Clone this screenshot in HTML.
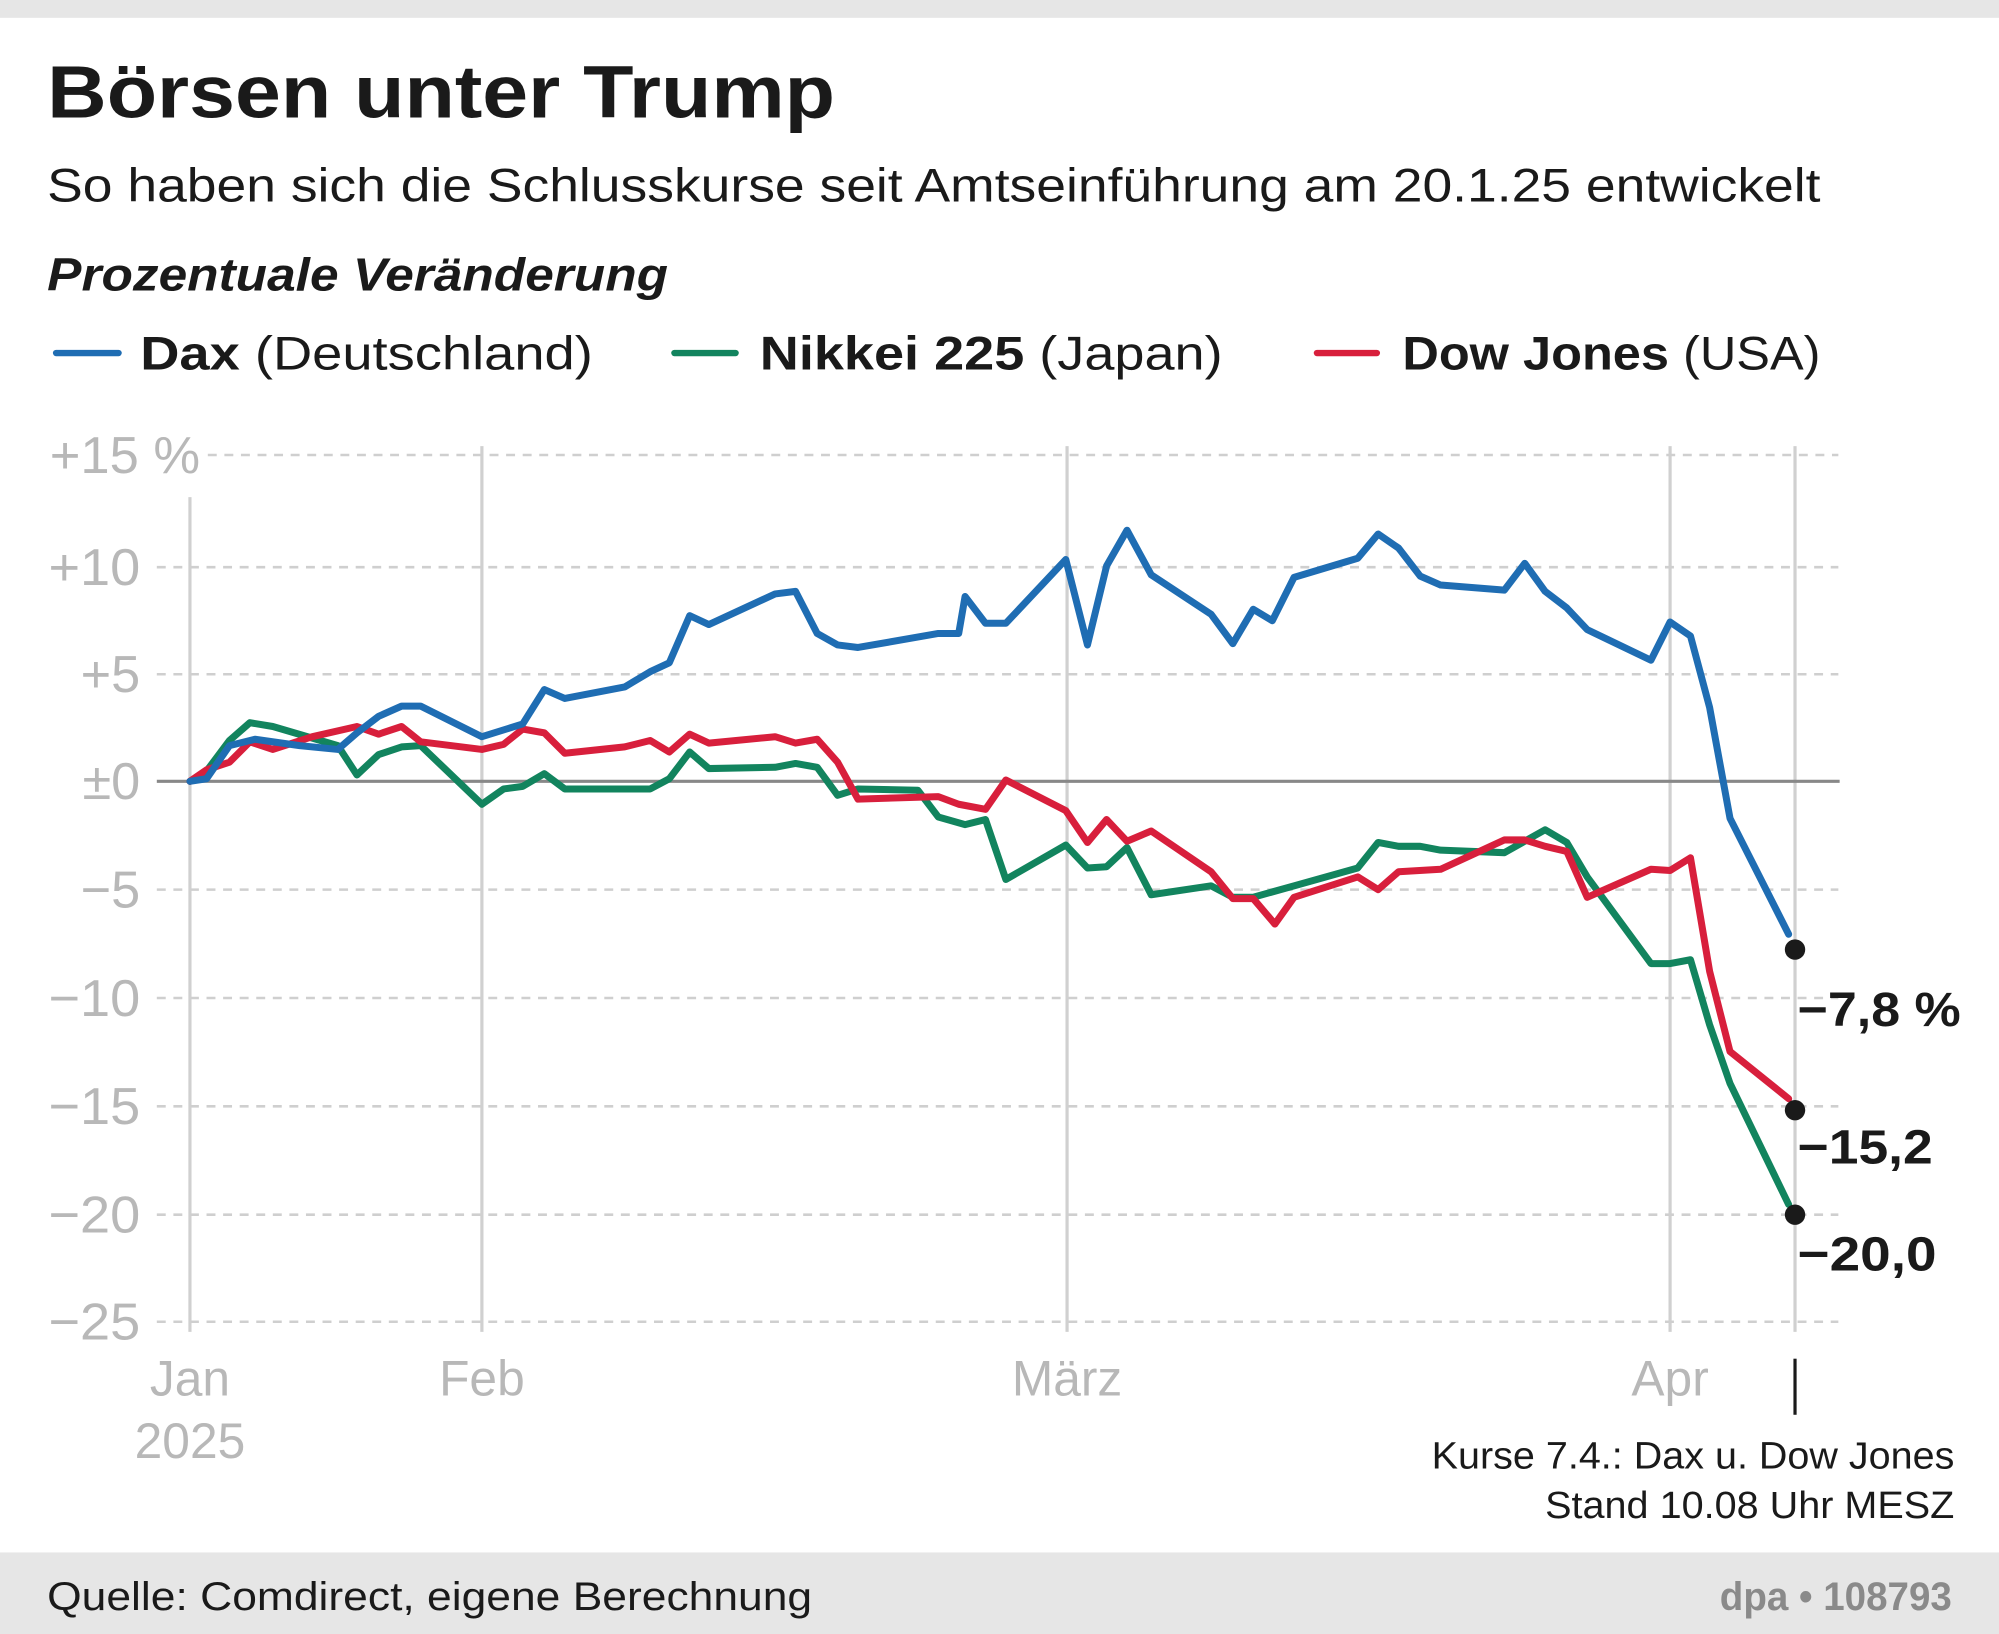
<!DOCTYPE html>
<html><head><meta charset="utf-8"><style>
html,body{margin:0;padding:0;background:#fff}
svg{display:block}
text{font-family:"Liberation Sans","DejaVu Sans",sans-serif}
</style></head><body>
<svg width="1999" height="1634" viewBox="0 0 1568 1282" preserveAspectRatio="none" xmlns="http://www.w3.org/2000/svg">
<rect x="0" y="0" width="1568" height="1282" fill="#fff"/>
<rect x="0" y="0" width="1568" height="14" fill="#e6e6e6"/>
<rect x="0" y="1218" width="1568" height="64" fill="#e6e6e6"/>
<text x="37" y="92" font-size="58" font-weight="bold" fill="#1a1a1a" textLength="618" lengthAdjust="spacingAndGlyphs">Börsen unter Trump</text>
<text x="37" y="158" font-size="37" fill="#1a1a1a" textLength="1391" lengthAdjust="spacingAndGlyphs">So haben sich die Schlusskurse seit Amtseinführung am 20.1.25 entwickelt</text>
<text x="37" y="228" font-size="36" font-weight="bold" font-style="italic" fill="#1a1a1a" textLength="487" lengthAdjust="spacingAndGlyphs">Prozentuale Veränderung</text>
<g stroke-width="5" stroke-linecap="round">
<line x1="44" y1="277" x2="93" y2="277" stroke="#1f6db3"/>
<line x1="529" y1="277" x2="577" y2="277" stroke="#12845e"/>
<line x1="1033" y1="277" x2="1080" y2="277" stroke="#d81f3c"/>
</g>
<g font-size="37" fill="#1a1a1a">
<text x="110" y="290" textLength="355" lengthAdjust="spacingAndGlyphs"><tspan font-weight="bold">Dax</tspan> (Deutschland)</text>
<text x="596" y="290" textLength="363" lengthAdjust="spacingAndGlyphs"><tspan font-weight="bold">Nikkei 225</tspan> (Japan)</text>
<text x="1100" y="290" textLength="328" lengthAdjust="spacingAndGlyphs"><tspan font-weight="bold">Dow Jones</tspan> (USA)</text>
</g>
<g stroke="#d0d0d0" stroke-width="2.5">
<line x1="149" y1="390" x2="149" y2="1045"/>
<line x1="378" y1="350" x2="378" y2="1045"/>
<line x1="837" y1="350" x2="837" y2="1045"/>
<line x1="1310" y1="350" x2="1310" y2="1045"/>
<line x1="1408" y1="350" x2="1408" y2="1045"/>
</g>
<g stroke="#cfcfcf" stroke-width="2" stroke-dasharray="7,6">
<line x1="163" y1="357" x2="1442" y2="357"/>
<line x1="123" y1="445" x2="1442" y2="445"/>
<line x1="123" y1="529" x2="1442" y2="529"/>
<line x1="123" y1="698" x2="1442" y2="698"/>
<line x1="123" y1="783" x2="1442" y2="783"/>
<line x1="123" y1="868" x2="1442" y2="868"/>
<line x1="123" y1="953" x2="1442" y2="953"/>
<line x1="123" y1="1037" x2="1442" y2="1037"/>
</g>
<line x1="123" y1="613" x2="1443" y2="613" stroke="#888" stroke-width="2.5"/>
<g font-size="41" fill="#b8b8b8" text-anchor="end">
<text x="157" y="371" textLength="118" lengthAdjust="spacingAndGlyphs">+15 %</text>
<text x="110" y="459" textLength="72" lengthAdjust="spacingAndGlyphs">+10</text>
<text x="110" y="543">+5</text>
<text x="110" y="627">±0</text>
<text x="110" y="712">−5</text>
<text x="110" y="797" textLength="72" lengthAdjust="spacingAndGlyphs">−10</text>
<text x="110" y="882" textLength="72" lengthAdjust="spacingAndGlyphs">−15</text>
<text x="110" y="967" textLength="72" lengthAdjust="spacingAndGlyphs">−20</text>
<text x="110" y="1051" textLength="72" lengthAdjust="spacingAndGlyphs">−25</text>
</g>
<g font-size="39" fill="#b8b8b8" text-anchor="middle">
<text x="149" y="1095">Jan</text>
<text x="149" y="1144">2025</text>
<text x="378" y="1095">Feb</text>
<text x="837" y="1095">März</text>
<text x="1310" y="1095">Apr</text>
</g>
<line x1="1408" y1="1066" x2="1408" y2="1110" stroke="#1a1a1a" stroke-width="2.5"/>
<g fill="none" stroke-width="5.5" stroke-linejoin="round" stroke-linecap="round">
<polyline stroke="#12845e" points="149,613 162,605 180,581 196,567 214,570 265,585 280,608 297,592 315,586 330,585 378,631 395,619 410,617 427,607 443,619 510,619 525,611 541,590 556,603 608,602 624,599 641,602 657,624 673,619 720,620 736,641 757,647 773,643 789,690 836,663 853,681 868,680 884,665 903,702 950,695 967,704 983,704 1015,695 1065,681 1081,661 1097,664 1114,664 1130,667 1180,669 1196,660 1212,651 1229,661 1245,688 1295,756 1310,756 1326,753 1341,804 1357,850 1403,945"/>
<polyline stroke="#d81f3c" points="149,613 162,604 180,598 196,582 214,588 245,578 280,570 297,576 315,570 330,582 378,588 395,584 410,572 427,575 443,591 490,586 510,581 525,590 541,576 556,583 608,578 624,583 641,580 657,598 673,627 736,625 752,631 773,635 789,612 836,636 853,661 868,643 884,660 903,652 950,684 967,705 983,705 1000,725 1015,704 1065,688 1081,698 1097,684 1130,682 1180,659 1196,659 1212,664 1229,668 1245,704 1295,682 1310,683 1326,673 1341,762 1357,825 1403,862"/>
<polyline stroke="#1f6db3" points="149,613 162,611 180,585 200,580 235,585 265,588 280,575 297,562 315,554 330,554 378,578 410,568 427,541 443,548 490,539 510,527 525,520 541,483 556,490 608,466 624,464 641,497 657,506 673,508 736,497 752,497 757,468 773,489 789,489 836,439 853,506 868,444 884,416 903,451 950,482 967,505 983,478 998,487 1015,453 1065,438 1081,419 1097,430 1114,452 1130,459 1180,463 1196,442 1212,464 1229,477 1245,494 1295,518 1310,488 1326,499 1341,555 1357,642 1403,733"/>
</g>
<g fill="#1a1a1a">
<circle cx="1408" cy="745" r="8"/>
<circle cx="1408" cy="871" r="8"/>
<circle cx="1408" cy="953" r="8"/>
</g>
<g font-size="38" font-weight="bold" fill="#1a1a1a">
<text x="1410" y="805" textLength="128" lengthAdjust="spacingAndGlyphs">−7,8 %</text>
<text x="1410" y="913" textLength="106" lengthAdjust="spacingAndGlyphs">−15,2</text>
<text x="1410" y="997" textLength="109" lengthAdjust="spacingAndGlyphs">−20,0</text>
</g>
<g font-size="30" fill="#1a1a1a" text-anchor="end">
<text x="1533" y="1152" textLength="410" lengthAdjust="spacingAndGlyphs">Kurse 7.4.: Dax u. Dow Jones</text>
<text x="1533" y="1191" textLength="321" lengthAdjust="spacingAndGlyphs">Stand 10.08 Uhr MESZ</text>
</g>
<text x="37" y="1263" font-size="31" fill="#1a1a1a" textLength="600" lengthAdjust="spacingAndGlyphs">Quelle: Comdirect, eigene Berechnung</text>
<text x="1531" y="1263" font-size="31" font-weight="bold" fill="#8a8a8a" text-anchor="end" textLength="182" lengthAdjust="spacingAndGlyphs">dpa • 108793</text>
</svg>
</body></html>
